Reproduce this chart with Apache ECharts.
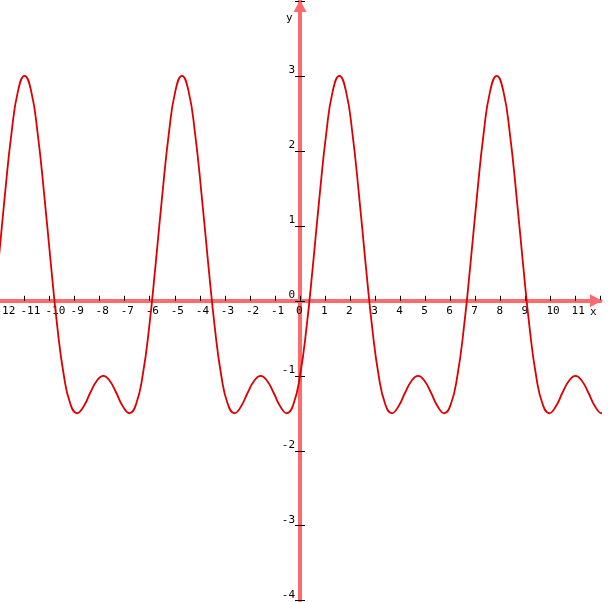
<!DOCTYPE html>
<html>
<head>
<meta charset="utf-8">
<script src="https://cdn.jsdelivr.net/npm/echarts@6/dist/echarts.min.js"></script>
<style>
  html, body { margin: 0; padding: 0; background: #fff; }
  #graph { width: 608px; height: 602px; }
</style>
</head>
<body>
<div id="graph"></div>
<script>
// points (x, y)
const xValues = [
  -12.043, -11.781, -11.519, -11.257, -10.996, -10.734, -10.472, -10.21, -9.948, -9.687, -9.425, -9.163,
  -8.901, -8.639, -8.378, -8.116, -7.854, -7.592, -7.33, -7.069, -6.807, -6.545, -6.283, -6.021,
  -5.76, -5.498, -5.236, -4.974, -4.712, -4.451, -4.189, -3.927, -3.665, -3.403, -3.142, -2.88,
  -2.618, -2.356, -2.094, -1.833, -1.571, -1.309, -1.047, -0.785, -0.524, -0.262, 0,
  0.262, 0.524, 0.785, 1.047, 1.309, 1.571, 1.833, 2.094, 2.356, 2.618, 2.88, 3.142,
  3.403, 3.665, 3.927, 4.189, 4.451, 4.712, 4.974, 5.236, 5.498, 5.76, 6.021, 6.283,
  6.545, 6.807, 7.069, 7.33, 7.592, 7.854, 8.116, 8.378, 8.639, 8.901, 9.163, 9.425,
  9.687, 9.948, 10.21, 10.472, 10.734, 10.996, 11.257, 11.519, 11.781, 12.043, 12.305
]
const yValues = [
  0.5, 1.41, 2.23, 2.8, 3, 2.8, 2.23, 1.41, 0.5, -0.35, -1, -1.38, -1.5, -1.41, -1.23, -1.07, -1, -1.07, -1.23, -1.41, -1.5, -1.38,
  -1, -0.35, 0.5, 1.41, 2.23, 2.8, 3, 2.8, 2.23, 1.41, 0.5, -0.35, -1, -1.38, -1.5, -1.41, -1.23, -1.07, -1, -1.07, -1.23, -1.41, -1.5, -1.38,
  -1, -0.35, 0.5, 1.41, 2.23, 2.8, 3, 2.8, 2.23, 1.41, 0.5, -0.35, -1, -1.38, -1.5, -1.41, -1.23, -1.07, -1, -1.07, -1.23, -1.41, -1.5, -1.38,
  -1, -0.35, 0.5, 1.41, 2.23, 2.8, 3, 2.8, 2.23, 1.41, 0.5, -0.35, -1, -1.38, -1.5, -1.41, -1.23, -1.07, -1, -1.07, -1.23, -1.41, -1.5, -1.38
]
const xRange = [-12, 12]
const yRange = [-4, 4]
const axisNames = ['x', 'y']

const axisColor = '#ff6b6b'
const curveColor = '#dd0000'
const font = 'DejaVu Sans Mono'
const fontSize = 11

// grid edges in px; the axes are shifted onto the zero lines with offset
const gridBox = { left: -0.6, right: 7.4, top: 0.9, bottom: 1.3 }
const W = 608, H = 602
const plotW = W - gridBox.left - gridBox.right
const plotH = H - gridBox.top - gridBox.bottom
const xZeroOffset = -plotW * (0 - xRange[0]) / (xRange[1] - xRange[0])
const yZeroOffset = -plotH * (0 - yRange[0]) / (yRange[1] - yRange[0])

let points = xValues.map((x, i) => [x, yValues[i]])

let chart = echarts.init(document.getElementById('graph'))
chart.setOption({
  animation: false,
  grid: Object.assign({ containLabel: false, outerBoundsMode: 'none' }, gridBox),
  xAxis: {
    type: 'value',
    position: 'bottom',
    offset: yZeroOffset,
    min: xRange[0],
    max: xRange[1],
    interval: 1,
    splitLine: { show: false },
    axisLine: {
      show: true,
      onZero: false,
      symbol: ['none', 'triangle'],
      symbolSize: [13, 12],
      symbolOffset: [0, -4.6],
      lineStyle: { color: axisColor, width: 4 }
    },
    axisTick: { show: true, inside: true, length: 5, lineStyle: { color: '#000', width: 1 } },
    axisLabel: {
      showMinLabel: true,
      showMaxLabel: true,
      align: 'left',
      padding: [0, 0, 0, -4],
      margin: 5,
      color: '#000',
      fontFamily: font,
      fontSize: fontSize,
      formatter: v => (v === xRange[1] ? '' : String(v))
    }
  },
  yAxis: [
    {
      type: 'value',
      position: 'left',
      offset: xZeroOffset,
      min: yRange[0],
      max: yRange[1],
      interval: 1,
      splitLine: { show: false },
      axisLine: {
        show: true,
        onZero: false,
        symbol: ['none', 'triangle'],
        symbolSize: [13, 12],
        symbolOffset: [0, -5],
        lineStyle: { color: axisColor, width: 4 }
      },
      axisTick: { show: true, inside: true, length: 5, lineStyle: { color: '#000', width: 1 } },
      axisLabel: {
        showMinLabel: true,
        showMaxLabel: true,
        margin: 5,
        verticalAlign: 'bottom',
        color: '#000',
        fontFamily: font,
        fontSize: fontSize,
        formatter: v => (v === yRange[1] ? '' : String(v))
      }
    },
    {
      // second y axis only for the tick halves on the left side
      type: 'value',
      position: 'left',
      offset: xZeroOffset,
      min: yRange[0],
      max: yRange[1],
      interval: 1,
      splitLine: { show: false },
      axisLine: { show: false, onZero: false },
      axisTick: { show: true, inside: false, length: 5, lineStyle: { color: '#000', width: 1 } },
      axisLabel: { show: false }
    }
  ],
  graphic: [
    { type: 'text', x: 590, y: 312, style: { text: axisNames[0], fill: '#000', font: fontSize + 'px ' + font, verticalAlign: 'middle' } },
    { type: 'text', x: 286, y: 18, style: { text: axisNames[1], fill: '#000', font: fontSize + 'px ' + font, verticalAlign: 'middle' } }
  ],
  series: [{
    type: 'line',
    data: points,
    smooth: true,
    showSymbol: false,
    clip: true,
    lineStyle: { color: curveColor, width: 1.8 }
  }]
})
</script>
</body>
</html>
